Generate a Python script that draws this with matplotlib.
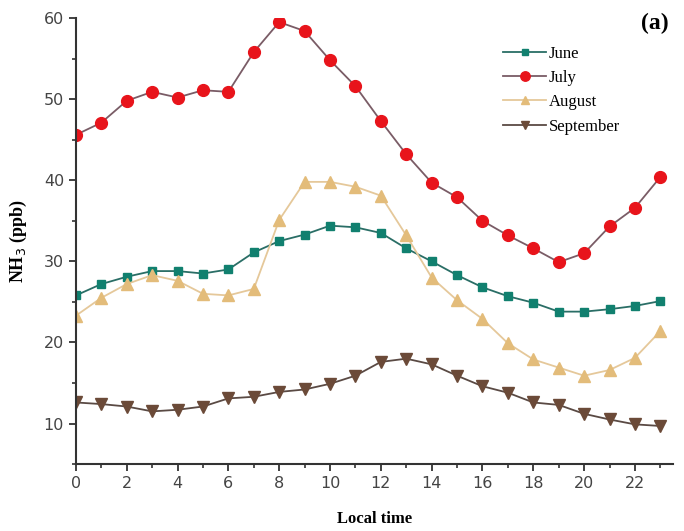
import numpy as np
import matplotlib
matplotlib.use("Agg")
import matplotlib.pyplot as plt
from matplotlib.ticker import MultipleLocator

# Local time (hours)
hours = np.arange(0, 24)

# NH3 concentration (ppb) per month
june = [25.8, 27.2, 28.1, 28.8, 28.8, 28.5, 29.0, 31.1, 32.5, 33.3, 34.4, 34.2,
        33.5, 31.6, 30.0, 28.3, 26.8, 25.7, 24.9, 23.8, 23.8, 24.1, 24.5, 25.1]
july = [45.6, 47.1, 49.8, 50.9, 50.2, 51.1, 50.9, 55.8, 59.5, 58.4, 54.8, 51.6,
        47.3, 43.2, 39.7, 37.9, 35.0, 33.2, 31.6, 29.9, 31.0, 34.3, 36.6, 40.4]
august = [23.3, 25.5, 27.2, 28.3, 27.6, 26.0, 25.8, 26.6, 35.1, 39.8, 39.8, 39.2,
          38.1, 33.2, 28.0, 25.2, 22.9, 19.9, 17.9, 16.9, 15.9, 16.6, 18.1, 21.4]
september = [12.6, 12.4, 12.1, 11.5, 11.7, 12.1, 13.1, 13.3, 13.9, 14.2, 14.9, 15.9,
             17.6, 18.0, 17.3, 15.9, 14.6, 13.8, 12.6, 12.3, 11.2, 10.5, 9.9, 9.7]

fig = plt.figure(figsize=(6.84, 5.31), dpi=100)
ax = fig.add_axes([0.111, 0.126, 0.873, 0.840])

ax.plot(hours, june, color="#2a6e66", marker="s", markersize=6,
        markerfacecolor="#11806f", markeredgecolor="#11806f", lw=1.3, label="June")
ax.plot(hours, july, color="#7a5c66", marker="o", markersize=8.5,
        markerfacecolor="#e8141b", markeredgecolor="#e8141b", lw=1.3, label="July")
ax.plot(hours, august, color="#e5c89a", marker="^", markersize=8,
        markerfacecolor="#e3bc7a", markeredgecolor="#e3bc7a", lw=1.3, label="August")
ax.plot(hours, september, color="#5a4a44", marker="v", markersize=8,
        markerfacecolor="#6b4a38", markeredgecolor="#6b4a38", lw=1.3, label="September")

ax.set_xlim(0, 23.5)
ax.set_ylim(5, 60)
ax.xaxis.set_major_locator(MultipleLocator(2))
ax.xaxis.set_minor_locator(MultipleLocator(1))
ax.yaxis.set_major_locator(MultipleLocator(10))
ax.yaxis.set_minor_locator(MultipleLocator(5))
ax.set_yticks([10, 20, 30, 40, 50, 60])

for s in ["top", "right"]:
    ax.spines[s].set_visible(False)
for s in ["left", "bottom"]:
    ax.spines[s].set_color("#333333")
    ax.spines[s].set_linewidth(1.5)

ax.tick_params(which="major", direction="out", length=5, width=1.3,
               colors="#333333", labelsize=11.5)
ax.tick_params(which="minor", direction="out", length=3, width=1.2, colors="#333333")
for lbl in ax.get_xticklabels() + ax.get_yticklabels():
    lbl.set_color("#444444")

ax.set_xlabel("Local time", fontfamily="Liberation Serif", fontweight="bold",
              fontsize=12)
ax.xaxis.set_label_coords(0.5, -0.105)
ax.set_ylabel("NH$_3$ (ppb)", fontfamily="Liberation Serif", fontweight="bold",
              fontsize=13)
ax.yaxis.set_label_coords(-0.078, 0.5)

leg = ax.legend(loc="upper left", bbox_to_anchor=(0.69, 0.972), frameon=False,
                prop={"family": "Liberation Serif", "size": 12},
                handlelength=2.6, labelspacing=0.5, handletextpad=0.15,
                markerscale=0.8)

fig.text(0.958, 0.955, "(a)", fontfamily="Liberation Serif", fontweight="bold",
         fontsize=17, ha="center", va="center")

fig.savefig("out.png", dpi=100)
